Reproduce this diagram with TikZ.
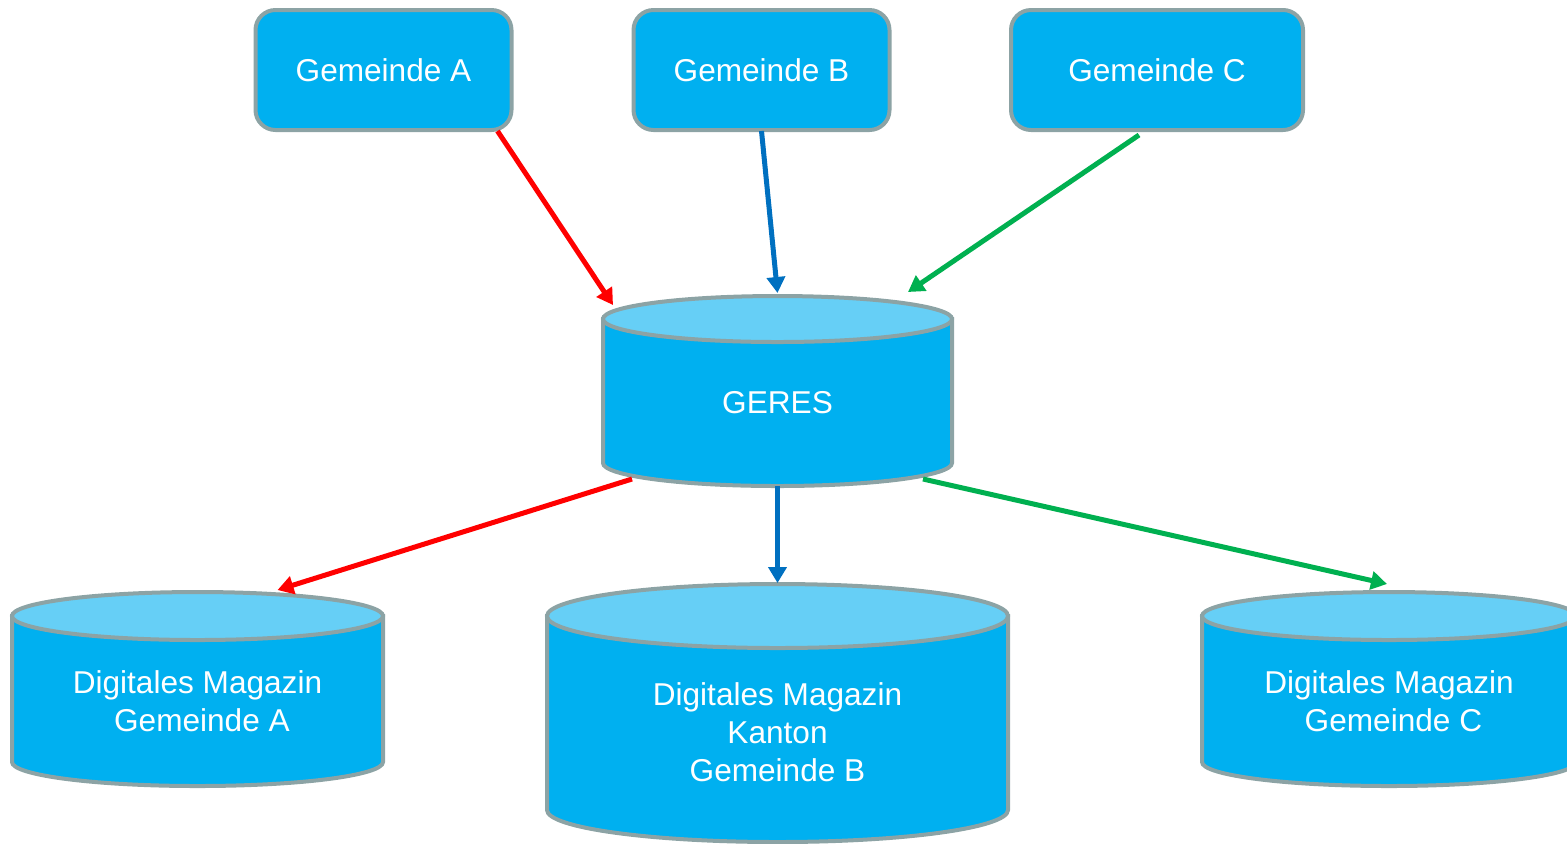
\documentclass[tikz,border=0pt]{standalone}
\usepackage{fontspec}
\setmainfont{Liberation Sans}
\usetikzlibrary{arrows.meta,calc}
\definecolor{boxblue}{HTML}{00B0F0}
\definecolor{topblue}{HTML}{66CFF6}
\definecolor{rim}{HTML}{8CA3A5}
\definecolor{ared}{HTML}{FF0000}
\definecolor{ablue}{HTML}{0070C0}
\definecolor{agreen}{HTML}{00B050}
\tikzset{
  gembox/.style={draw=rim, line width=2pt, fill=boxblue, rounded corners=10pt,
    minimum height=60pt, text=white, font=\fontsize{15.8}{19}\selectfont, inner sep=0pt, outer sep=0pt},
  cylbody/.style={draw=rim, line width=2pt, fill=boxblue},
  cyltop/.style={draw=rim, line width=2pt, fill=topblue},
  cyltxt/.style={text=white, font=\fontsize{15.8}{19}\selectfont, align=center, inner sep=0pt},
  cylframe/.style={inner sep=0pt, outer sep=0pt},
  conn/.style={line width=2.5pt, -{Triangle[length=8pt,width=9pt]}},
}
% #1 name, #2 cx, #3 ytop, #4 ybot, #5 rx, #6 ry, #7 text y, #8 text
\newcommand\dbcyl[8]{%
  \pgfmathsetmacro\cyta{#3+#6}%
  \pgfmathsetmacro\cytb{#4-#6}%
  \pgfmathsetmacro\cyxl{#2-#5}%
  \pgfmathsetmacro\cyxr{#2+#5}%
  \filldraw[cylbody] (\cyxl,\cyta) -- (\cyxl,\cytb)
     arc[start angle=180,end angle=0,x radius=#5,y radius=#6] -- (\cyxr,\cyta) -- cycle;
  \filldraw[cyltop] (#2,\cyta) ellipse[x radius=#5,y radius=#6];
  \node[cylframe, minimum width=#5pt, minimum height={(#4-#3)*0.5pt}] (#1) at (#2,{(#3+#4)/2}) {};
  \node[cyltxt] (#1-t) at (#2,#7) {#8};
}
\begin{document}
\begin{tikzpicture}[x=0.5pt,y=-0.5pt]
\useasboundingbox (0,0) rectangle (1567,843);
\clip (0,0) rectangle (1567,843);
\node[gembox, minimum width=128pt] (ga) at (383.5,70) {Gemeinde A};
\node[gembox, minimum width=128pt] (gb) at (761.5,70) {Gemeinde B};
\node[gembox, minimum width=146pt] (gc) at (1157,70) {Gemeinde C};
\dbcyl{geres}{777.5}{296}{486}{174.5}{23}{403}{GERES}
\dbcyl{dma}{197.5}{592}{786}{185.5}{24}{701.5}{Digitales Magazin\\ \hspace*{0.28em}Gemeinde A}
\dbcyl{dmk}{777.5}{584}{842}{230.5}{32}{732}{Digitales Magazin\\Kanton\\Gemeinde B}
\dbcyl{dmc}{1389}{592}{786}{187}{24}{701.5}{Digitales Magazin\\ \hspace*{0.28em}Gemeinde C}
\draw[conn, ared] ($(ga.south east)+(-14,1)$) -- ($(geres.north west)+(10,9)$);
\draw[conn, ablue] ($(gb.south)+(0,1)$) -- ($(geres.north)+(0,-3)$);
\draw[conn, agreen] ($(gc.south)+(-18,5)$) -- ($(geres.north east)+(-44,-4)$);
\draw[conn, ared] ($(geres.south west)+(29,-7)$) -- ($(dma.north)+(80,-2)$);
\draw[conn, ablue] (geres.south) -- ($(dmk.north)+(0,-1)$);
\draw[conn, agreen] ($(geres.south east)+(-29,-7)$) -- ($(dmc.north)+(-2,-8)$);
\end{tikzpicture}
\end{document}
